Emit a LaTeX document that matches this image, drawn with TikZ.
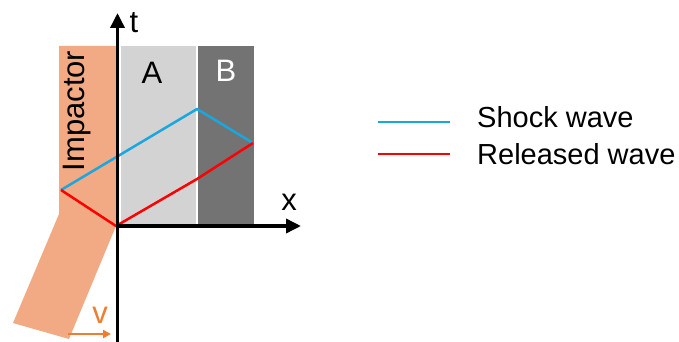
\documentclass[tikz,border=0pt]{standalone}
\usepackage{fontspec}
\setmainfont{Liberation Sans}
\usetikzlibrary{arrows.meta}
\definecolor{impc}{HTML}{F2AA84}
\definecolor{shockc}{HTML}{1AA7E0}
\definecolor{relc}{HTML}{FF0000}
\definecolor{vc}{HTML}{ED7D31}
\definecolor{ac}{HTML}{D3D3D3}
\definecolor{bc}{HTML}{737373}
\tikzset{
  axis/.style={line width=3.5pt, -{Triangle[length=15pt,width=14pt]}},
  shock/.style={shockc, line width=2.5pt, line join=round},
  rel/.style={relc, line width=2.5pt, line join=round},
  lbl/.style={inner sep=0pt, font=\fontsize{31}{31}\selectfont},
  leg/.style={inner sep=0pt, anchor=base west, font=\fontsize{29}{29}\selectfont},
}
\begin{document}
\begin{tikzpicture}[x=1pt,y=-1pt]
\useasboundingbox (0,0) rectangle (679,342);
% impactor
\fill[impc] (59,46) -- (116,46) -- (116,226) -- (69,339) -- (13,323) -- (59,214) -- cycle;
% layers
\fill[ac] (121,46) rectangle (196,224);
\fill[bc] (198,46) rectangle (254,224);
\node[lbl] (A) at (152,73) {A};
\node[lbl, text=white] (B) at (226,71) {B};
\node[lbl, rotate=90] (imp) at (77,111) {Impactor};
% points
\coordinate (O) at (116,226);
\coordinate (P1) at (61,190);
\coordinate (P2) at (197,109);
\coordinate (P3) at (253,143);
\coordinate (P4) at (197,179);
\draw[shock] (P1) -- (P2) -- (P3);
\draw[rel] (P1) -- (O) -- (P4) -- (P3);
% axes
\coordinate (tbot) at (117.5,342);
\coordinate (ttop) at (117.5,13);
\coordinate (xl) at (116,226);
\coordinate (xr) at (301,226);
\draw[axis] (tbot) -- (ttop);
\draw[axis] (xl) -- (xr);
\node[lbl] (t) at (134,23) {t};
\node[lbl] (x) at (289,202) {x};
% velocity
\coordinate (va) at (68,334);
\coordinate (vb) at (111,334);
\draw[vc, line width=2pt, -{Triangle[length=8pt,width=8pt]}] (va) -- (vb);
\node[lbl, text=vc] (v) at (100,315) {v};
% legend
\coordinate (l1a) at (378,122);
\coordinate (l1b) at (450,122);
\coordinate (l2a) at (378,154);
\coordinate (l2b) at (450,154);
\draw[shock] (l1a) -- (l1b);
\draw[rel] (l2a) -- (l2b);
\node[leg] (s) at (477,128) {Shock wave};
\node[leg] (r) at (477,164) {Released wave};
\end{tikzpicture}
\end{document}
